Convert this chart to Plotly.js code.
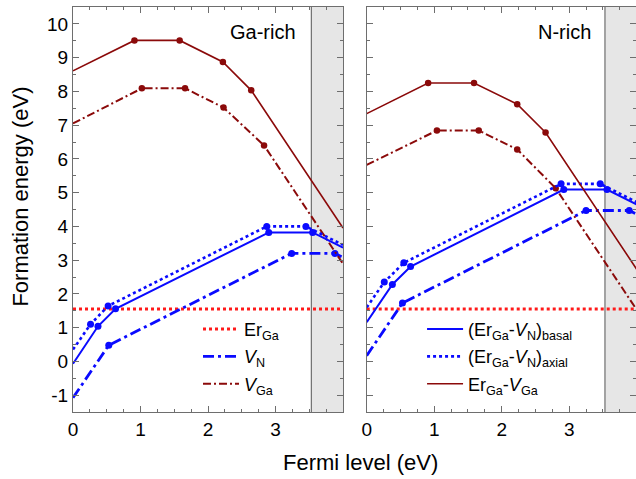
<!DOCTYPE html>
<html><head><meta charset="utf-8">
<script src="https://cdn.plot.ly/plotly-3.0.1.min.js"></script>
<style>html,body{margin:0;padding:0;background:#fff;}#chart{width:636px;height:479px;}</style>
</head><body><div id="chart"></div>
<script>
// ---- data (Fermi level in eV, formation energy in eV) ----
const bandGap = 3.53;
// Ga-rich panel
const gaErGa_x = [0, 4.0];
const gaErGa_y = [1.55, 1.55];
const gaVN_x = [0, 0.53, 3.24, 3.88, 4.0];
const gaVN_y = [-1.08, 0.48, 3.20, 3.20, 3.08];
const gaVGa_x = [0, 1.02, 1.66, 2.23, 2.83, 4.0];
const gaVGa_y = [7.05, 8.09, 8.09, 7.52, 6.40, 2.89];
const gaBasal_x = [0, 0.37, 0.63, 2.90, 3.55, 4.0];
const gaBasal_y = [-0.07, 1.04, 1.56, 3.82, 3.82, 3.37];
const gaAxial_x = [0, 0.26, 0.52, 2.87, 3.45, 4.0];
const gaAxial_y = [0.35, 1.10, 1.64, 4.00, 4.00, 3.45];
const gaErVGa_x = [0, 0.91, 1.58, 2.22, 2.64, 4.0];
const gaErVGa_y = [8.61, 9.51, 9.51, 8.87, 8.03, 3.95];
// N-rich panel
const nErGa_x = [0, 4.0];
const nErGa_y = [1.55, 1.55];
const nVN_x = [0, 0.53, 3.25, 3.89, 4.0];
const nVN_y = [0.17, 1.73, 4.47, 4.47, 4.36];
const nVGa_x = [0, 1.04, 1.66, 2.23, 2.80, 4.0];
const nVGa_y = [5.82, 6.84, 6.84, 6.28, 5.13, 1.53];
const nBasal_x = [0, 0.38, 0.65, 2.92, 3.56, 4.0];
const nBasal_y = [1.16, 2.28, 2.81, 5.09, 5.09, 4.65];
const nAxial_x = [0, 0.26, 0.55, 2.88, 3.46, 4.0];
const nAxial_y = [1.60, 2.35, 2.92, 5.26, 5.26, 4.72];
const nErVGa_x = [0, 0.91, 1.59, 2.23, 2.65, 4.0];
const nErVGa_y = [7.34, 8.25, 8.25, 7.62, 6.78, 2.73];

const xTickVals = [0, 1, 2, 3];
const xTickText = ['0', '1', '2', '3'];
const yTickVals = [-1, 0, 1, 2, 3, 4, 5, 6, 7, 8, 9, 10];
const yTickText = ['-1', '0', '1', '2', '3', '4', '5', '6', '7', '8', '9', '10'];

const names = {
  erGa: 'Er<sub>Ga</sub>',
  vN: '<i>V</i><sub>N</sub>',
  vGa: '<i>V</i><sub>Ga</sub>',
  basal: '(Er<sub>Ga</sub>-<i>V</i><sub>N</sub>)<sub>basal</sub>',
  axial: '(Er<sub>Ga</sub>-<i>V</i><sub>N</sub>)<sub>axial</sub>',
  erVGa: 'Er<sub>Ga</sub>-<i>V</i><sub>Ga</sub>'
};

// ---- styles ----
const BLUE = '#0a0aff', DRED = '#8b0a0a', RED = '#ff1a1a';
const st = {
  erGa: {color: RED, width: 3, dash: 'dot'},
  vN: {color: BLUE, width: 2.8, dash: '11px,4px,3px,4px'},
  vGa: {color: DRED, width: 2, dash: '8px,3px,2px,3px'},
  basal: {color: BLUE, width: 2, dash: 'solid'},
  axial: {color: BLUE, width: 2.6, dash: 'dot'},
  erVGa: {color: DRED, width: 1.6, dash: 'solid'}
};

const traces = [];
function addSeries(key, xs, ys, xa, ya, legendId, showLeg) {
  traces.push({x: xs, y: ys, xaxis: xa, yaxis: ya, mode: 'lines', name: names[key], legendgroup: key,
    line: st[key], showlegend: showLeg, legend: legendId, hoverinfo: 'skip'});
  if (xs.length > 2) {
    traces.push({x: xs.slice(1, -1), y: ys.slice(1, -1), xaxis: xa, yaxis: ya, mode: 'markers', legendgroup: key,
      legend: legendId,
      marker: {color: st[key].color, size: st[key].color === BLUE ? 7 : 6.5}, showlegend: false, hoverinfo: 'skip'});
  }
}
// left panel (legend 1)
addSeries('erGa', gaErGa_x, gaErGa_y, 'x', 'y', 'legend', true);
addSeries('vN', gaVN_x, gaVN_y, 'x', 'y', 'legend', true);
addSeries('vGa', gaVGa_x, gaVGa_y, 'x', 'y', 'legend', true);
addSeries('basal', gaBasal_x, gaBasal_y, 'x', 'y', 'legend2', false);
addSeries('axial', gaAxial_x, gaAxial_y, 'x', 'y', 'legend2', false);
addSeries('erVGa', gaErVGa_x, gaErVGa_y, 'x', 'y', 'legend2', false);
// right panel (legend 2)
addSeries('erGa', nErGa_x, nErGa_y, 'x2', 'y2', 'legend', false);
addSeries('vN', nVN_x, nVN_y, 'x2', 'y2', 'legend', false);
addSeries('vGa', nVGa_x, nVGa_y, 'x2', 'y2', 'legend', false);
addSeries('basal', nBasal_x, nBasal_y, 'x2', 'y2', 'legend2', true);
addSeries('axial', nAxial_x, nAxial_y, 'x2', 'y2', 'legend2', true);
addSeries('erVGa', nErVGa_x, nErVGa_y, 'x2', 'y2', 'legend2', true);

const FONT = 'Liberation Sans, Arial, sans-serif';
const AX = '#6e6e6e';
function xAxis(domain, range, anchor) {
  return {domain: domain, range: range, anchor: anchor, tickmode: 'array', tickvals: xTickVals, ticktext: xTickText,
    ticks: 'inside', ticklen: 6, tickcolor: AX, showline: true, linecolor: AX, linewidth: 1, mirror: 'ticks',
    showgrid: false, zeroline: false, tickfont: {size: 19, color: '#000', family: FONT},
    minor: {tickmode: 'linear', tick0: 0, dtick: 0.25, ticks: 'inside', ticklen: 3, tickcolor: AX, showgrid: false}};
}
function yAxis(anchor, showLabels) {
  return {domain: [0, 1], range: [-1.5, 10.5], anchor: anchor, tickmode: 'array', tickvals: yTickVals, ticktext: yTickText,
    showticklabels: showLabels, ticks: 'inside', ticklen: 6, tickcolor: AX, showline: true, linecolor: AX, linewidth: 1,
    mirror: 'ticks', showgrid: false, zeroline: false, tickfont: {size: 19, color: '#000', family: FONT},
    minor: {tickmode: 'linear', tick0: 0, dtick: 0.5, ticks: 'inside', ticklen: 3, tickcolor: AX, showgrid: false}};
}

const shapes = [
  {type: 'rect', xref: 'x', yref: 'y', x0: bandGap, x1: 4.0, y0: -1.5, y1: 10.5, fillcolor: '#e6e6e6', line: {width: 0}, layer: 'below'},
  {type: 'line', xref: 'x', yref: 'y', x0: bandGap, x1: bandGap, y0: -1.5, y1: 10.5, line: {color: '#555', width: 1}, layer: 'below'},
  {type: 'rect', xref: 'x2', yref: 'y2', x0: bandGap, x1: 3.99, y0: -1.5, y1: 10.5, fillcolor: '#e6e6e6', line: {width: 0}, layer: 'below'},
  {type: 'line', xref: 'x2', yref: 'y2', x0: bandGap, x1: bandGap, y0: -1.5, y1: 10.5, line: {color: '#555', width: 1}, layer: 'below'}
];

const layout = {
  width: 636, height: 479,
  margin: {l: 73, r: 0, t: 7, b: 67},
  paper_bgcolor: '#fff', plot_bgcolor: 'rgba(0,0,0,0)',
  font: {family: FONT, color: '#000'},
  xaxis: xAxis([0, 0.4796], [0, 4.0], 'y'),
  yaxis: yAxis('x', true),
  xaxis2: xAxis([0.5217, 1], [0, 3.99], 'y2'),
  yaxis2: yAxis('x2', false),
  shapes: shapes,
  legend: {x: 0.222, y: 0.25, xanchor: 'left', yanchor: 'top', bgcolor: 'rgba(0,0,0,0)',
    font: {size: 18, family: FONT}, tracegroupgap: 1, itemwidth: 36, traceorder: 'grouped'},
  legend2: {x: 0.62, y: 0.25, xanchor: 'left', yanchor: 'top', bgcolor: 'rgba(0,0,0,0)',
    font: {size: 18, family: FONT}, tracegroupgap: 1, itemwidth: 36, traceorder: 'grouped'},
  annotations: [
    {text: 'Ga-rich', xref: 'x', yref: 'y', x: 3.34, y: 9.75, xanchor: 'right', yanchor: 'middle', showarrow: false, font: {size: 20, family: FONT}},
    {text: 'N-rich', xref: 'x2', yref: 'y2', x: 3.35, y: 9.75, xanchor: 'right', yanchor: 'middle', showarrow: false, font: {size: 20, family: FONT}},
    {text: 'Fermi level (eV)', xref: 'paper', yref: 'paper', x: 0.5098, y: -0.124, xanchor: 'center', yanchor: 'middle', showarrow: false, font: {size: 22, family: FONT}},
    {text: 'Formation energy (eV)', xref: 'paper', yref: 'paper', x: -0.093, y: 0.531, xanchor: 'center', yanchor: 'middle', textangle: -90, showarrow: false, font: {size: 22, family: FONT}}
  ]
};

Plotly.newPlot('chart', traces, layout, {staticPlot: true, displayModeBar: false});
</script></body></html>
